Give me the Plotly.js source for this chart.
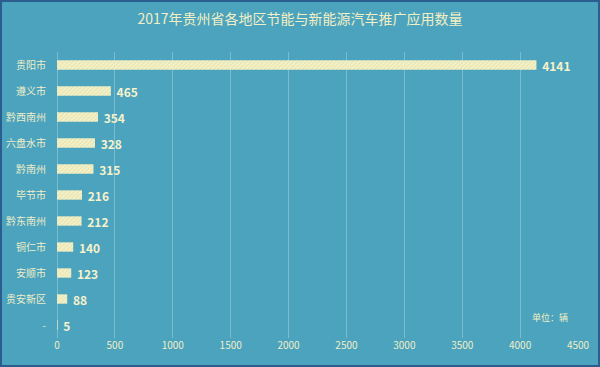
<!DOCTYPE html>
<html><head><meta charset="utf-8">
<script src="https://cdn.plot.ly/plotly-3.0.1.min.js"></script>
<style>
html,body{margin:0;padding:0;background:#4ba3bd;}
#wrap{position:relative;width:600px;height:367px;}
#chart{width:600px;height:367px;}
#frame{position:absolute;left:0;top:0;width:600px;height:367px;box-sizing:border-box;border:2px solid #2b5d8e;pointer-events:none;}
</style></head>
<body>
<div id="wrap"><div id="chart"></div><div id="frame"></div></div>
<script>
const categories = ["贵阳市","遵义市","黔西南州","六盘水市","黔南州","毕节市","黔东南州","铜仁市","安顺市","贵安新区","-"];
const values = [4141,465,354,328,315,216,212,140,123,88,5];
const xTicks = [0,500,1000,1500,2000,2500,3000,3500,4000,4500];

const font = "'Noto Sans CJK SC', 'Noto Sans', sans-serif";
const trace = {
  type: "bar",
  orientation: "h",
  y: categories,
  x: values,
  width: 0.36,
  marker: {
    color: "#f3f0c6",
    line: {width: 0},
    pattern: {shape: "/", fgcolor: "#dcd8a4", bgcolor: "#f3f0c6", size: 3, solidity: 0.25}
  },
  text: values.map(v => "\u00a0" + v),
  textposition: "outside",
  constraintext: "none",
  textangle: 0,
  cliponaxis: false,
  textfont: {family: font, size: 12, color: "#f6f2cc", weight: "bold"},
  hoverinfo: "none"
};
const layout = {
  width: 600, height: 367,
  paper_bgcolor: "#4ba3bd",
  plot_bgcolor: "#4ba3bd",
  margin: {l: 57, r: 22, t: 52, b: 29},
  title: {text: "2017年贵州省各地区节能与新能源汽车推广应用数量", x: 0.5, xanchor: "center", y: 0.948, yanchor: "middle",
          font: {family: font, size: 14, color: "#f2efc4"}},
  bargap: 0.6,
  showlegend: false,
  xaxis: {
    range: [0, 4500], tickvals: xTicks, ticktext: xTicks.map(String),
    showgrid: true, gridcolor: "rgba(255,255,255,0.28)", gridwidth: 1,
    zeroline: true, zerolinecolor: "rgba(255,255,255,0.28)", zerolinewidth: 1,
    showline: false, ticks: "",
    tickfont: {family: font, size: 10, color: "#f0eec8"},
    fixedrange: true
  },
  yaxis: {
    autorange: "reversed", type: "category",
    showgrid: false, zeroline: false, showline: false, ticks: "",
    ticklabelstandoff: 10,
    tickfont: {family: font, size: 10, color: "#f0eec8"},
    fixedrange: true
  },
  annotations: [{
    text: "单位：辆", xref: "paper", yref: "paper", x: 0.985, y: 0.07, xanchor: "right", yanchor: "middle",
    showarrow: false, font: {family: font, size: 9, color: "#f2efc4"}
  }]
};
Plotly.newPlot("chart", [trace], layout, {displayModeBar: false, staticPlot: true});
</script>
</body></html>
